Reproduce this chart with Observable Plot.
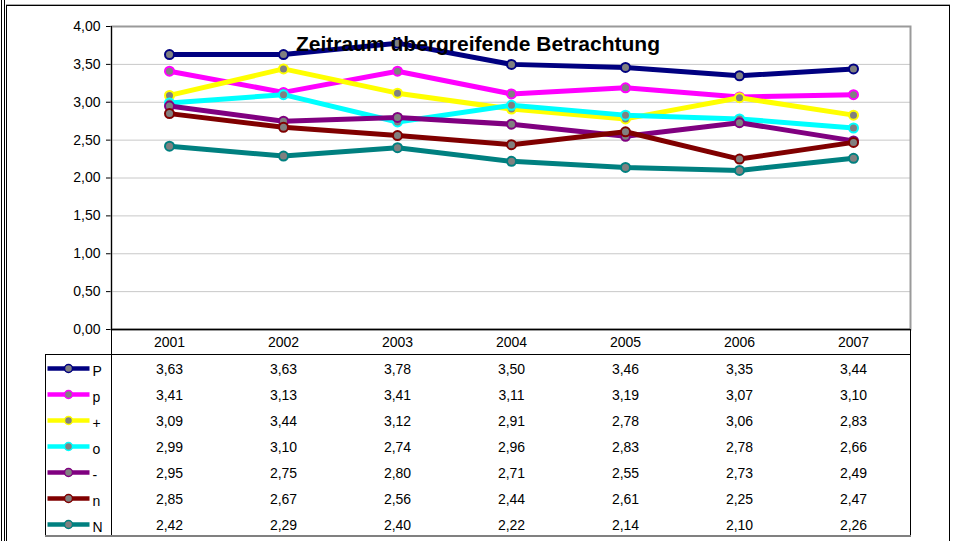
<!DOCTYPE html>
<html><head><meta charset="utf-8">
<script src="https://cdn.jsdelivr.net/npm/d3@7"></script>
<script src="https://cdn.jsdelivr.net/npm/@observablehq/plot@0.6"></script>
<style>
html,body{margin:0;padding:0;background:#fff;}
#wrap{position:relative;width:956px;height:541px;overflow:hidden;background:#fff;font-family:"Liberation Sans",Arial,sans-serif;}
.ln{position:absolute;}
#wrap svg{position:absolute;left:0;}
</style></head><body><div id="wrap"></div>
<script>
// ---- data ----
const years = ["2001", "2002", "2003", "2004", "2005", "2006", "2007"];
const seriesNames = ["P", "p", "+", "o", "-", "n", "N"];
const seriesColors = ["#000080", "#ff00ff", "#ffff00", "#00ffff", "#800080", "#800000", "#008080"];
const valuesP     = [3.63, 3.63, 3.78, 3.50, 3.46, 3.35, 3.44];
const valuesp     = [3.41, 3.13, 3.41, 3.11, 3.19, 3.07, 3.10];
const valuesPlus  = [3.09, 3.44, 3.12, 2.91, 2.78, 3.06, 2.83];
const valuesO     = [2.99, 3.10, 2.74, 2.96, 2.83, 2.78, 2.66];
const valuesMinus = [2.95, 2.75, 2.80, 2.71, 2.55, 2.73, 2.49];
const valuesn     = [2.85, 2.67, 2.56, 2.44, 2.61, 2.25, 2.47];
const valuesN     = [2.42, 2.29, 2.40, 2.22, 2.14, 2.10, 2.26];
const yTicks = [0, 0.5, 1, 1.5, 2, 2.5, 3, 3.5, 4];
const title = "Zeitraum übergreifende Betrachtung";

const seriesValues = [valuesP, valuesp, valuesPlus, valuesO, valuesMinus, valuesn, valuesN];
const rows = seriesNames.flatMap((s, i) => years.map((yr, j) => ({series: s, year: yr, value: seriesValues[i][j]})));
const fmt = v => v.toFixed(2).replace(".", ",");
const colorScale = {domain: seriesNames, range: seriesColors, type: "ordinal"};
const font = "'Liberation Sans', Arial, sans-serif";

const wrap = document.getElementById("wrap");
function line(x, y, w, h, c) {
  const d = document.createElement("div");
  d.className = "ln";
  Object.assign(d.style, {left: x + "px", top: y + "px", width: w + "px", height: h + "px", background: c});
  wrap.appendChild(d);
}

// ---- chart ----
const seriesMarks = seriesNames.flatMap(s => {
  const data = rows.filter(d => d.series === s);
  return [
    Plot.line(data, {x: "year", y: "value", stroke: "series", strokeWidth: 5}),
    Plot.dot(data, {x: "year", y: "value", r: 4.5, fill: "#808080", stroke: "series", strokeWidth: 2})
  ];
});

const chart = Plot.plot({
  width: 956,
  height: 355,
  marginTop: 26,
  marginBottom: 26,
  marginLeft: 111,
  marginRight: 46,
  style: {fontFamily: font, fontSize: "14px", background: "transparent", overflow: "visible", color: "#000"},
  x: {type: "point", domain: years, padding: 0.5, tickSize: 0, tickPadding: 8, label: null},
  y: {domain: [0, 4], ticks: yTicks, tickFormat: fmt, tickSize: 5, tickPadding: 6, label: null},
  color: colorScale,
  marks: [
    Plot.ruleY(yTicks, {stroke: "#c8c8c8", strokeWidth: 1}),
    Plot.frame({stroke: "#9a9a9a", strokeWidth: 2}),
    Plot.ruleY([0], {stroke: "#000", strokeWidth: 1.5}),
    ...seriesMarks,
    Plot.text([title], {frameAnchor: "top", dx: -33, dy: 24, lineAnchor: "bottom", fontSize: 21, fontWeight: "bold", fill: "#000", text: d => d})
  ]
});
chart.style.top = "0px";
wrap.appendChild(chart);

// ---- data table ----
const lineSymbol = {draw(ctx) { ctx.moveTo(-21, 0); ctx.lineTo(21, 0); }};
const table = Plot.plot({
  width: 956,
  height: 186,
  marginTop: 0,
  marginBottom: 4,
  marginLeft: 45,
  marginRight: 46,
  style: {fontFamily: font, fontSize: "14px", background: "transparent", overflow: "visible", color: "#000"},
  x: {type: "point", domain: years, range: [111, 910], padding: 0.5, axis: null},
  y: {type: "band", domain: seriesNames, padding: 0, axis: null},
  color: colorScale,
  marks: [
    Plot.text(rows, {x: "year", y: "series", text: d => fmt(d.value), dy: 1, fill: "#000"}),
    Plot.dot(seriesNames, {y: d => d, frameAnchor: "left", dx: 23, symbol: lineSymbol, fill: "none", stroke: d => d, strokeWidth: 4.5}),
    Plot.dot(seriesNames, {y: d => d, frameAnchor: "left", dx: 23, r: 4, fill: "#808080", stroke: d => d, strokeWidth: 1.5}),
    Plot.text(seriesNames, {y: d => d, text: d => d, frameAnchor: "left", dx: 47, textAnchor: "start", dy: 3, fill: "#000"})
  ]
});
table.style.top = "355px";
wrap.appendChild(table);

// ---- frame / table grid lines ----
line(1, 0, 1, 541, "#000");
line(4, 0, 1, 541, "#000");
line(6, 5, 1, 536, "#000");
line(6, 4, 944, 1, "#aaa");
line(6, 5, 944, 1, "#000");
line(949, 5, 1, 536, "#000");
line(111, 26, 1, 511, "#000");     // value axis + table column line
line(910, 329, 1, 208, "#000");    // table right edge
line(45, 354, 866, 1, "#000");     // table header separator
line(45, 354, 1, 183, "#000");     // table left edge
line(45, 535, 866, 2, "#808080");  // table bottom
</script></body></html>
